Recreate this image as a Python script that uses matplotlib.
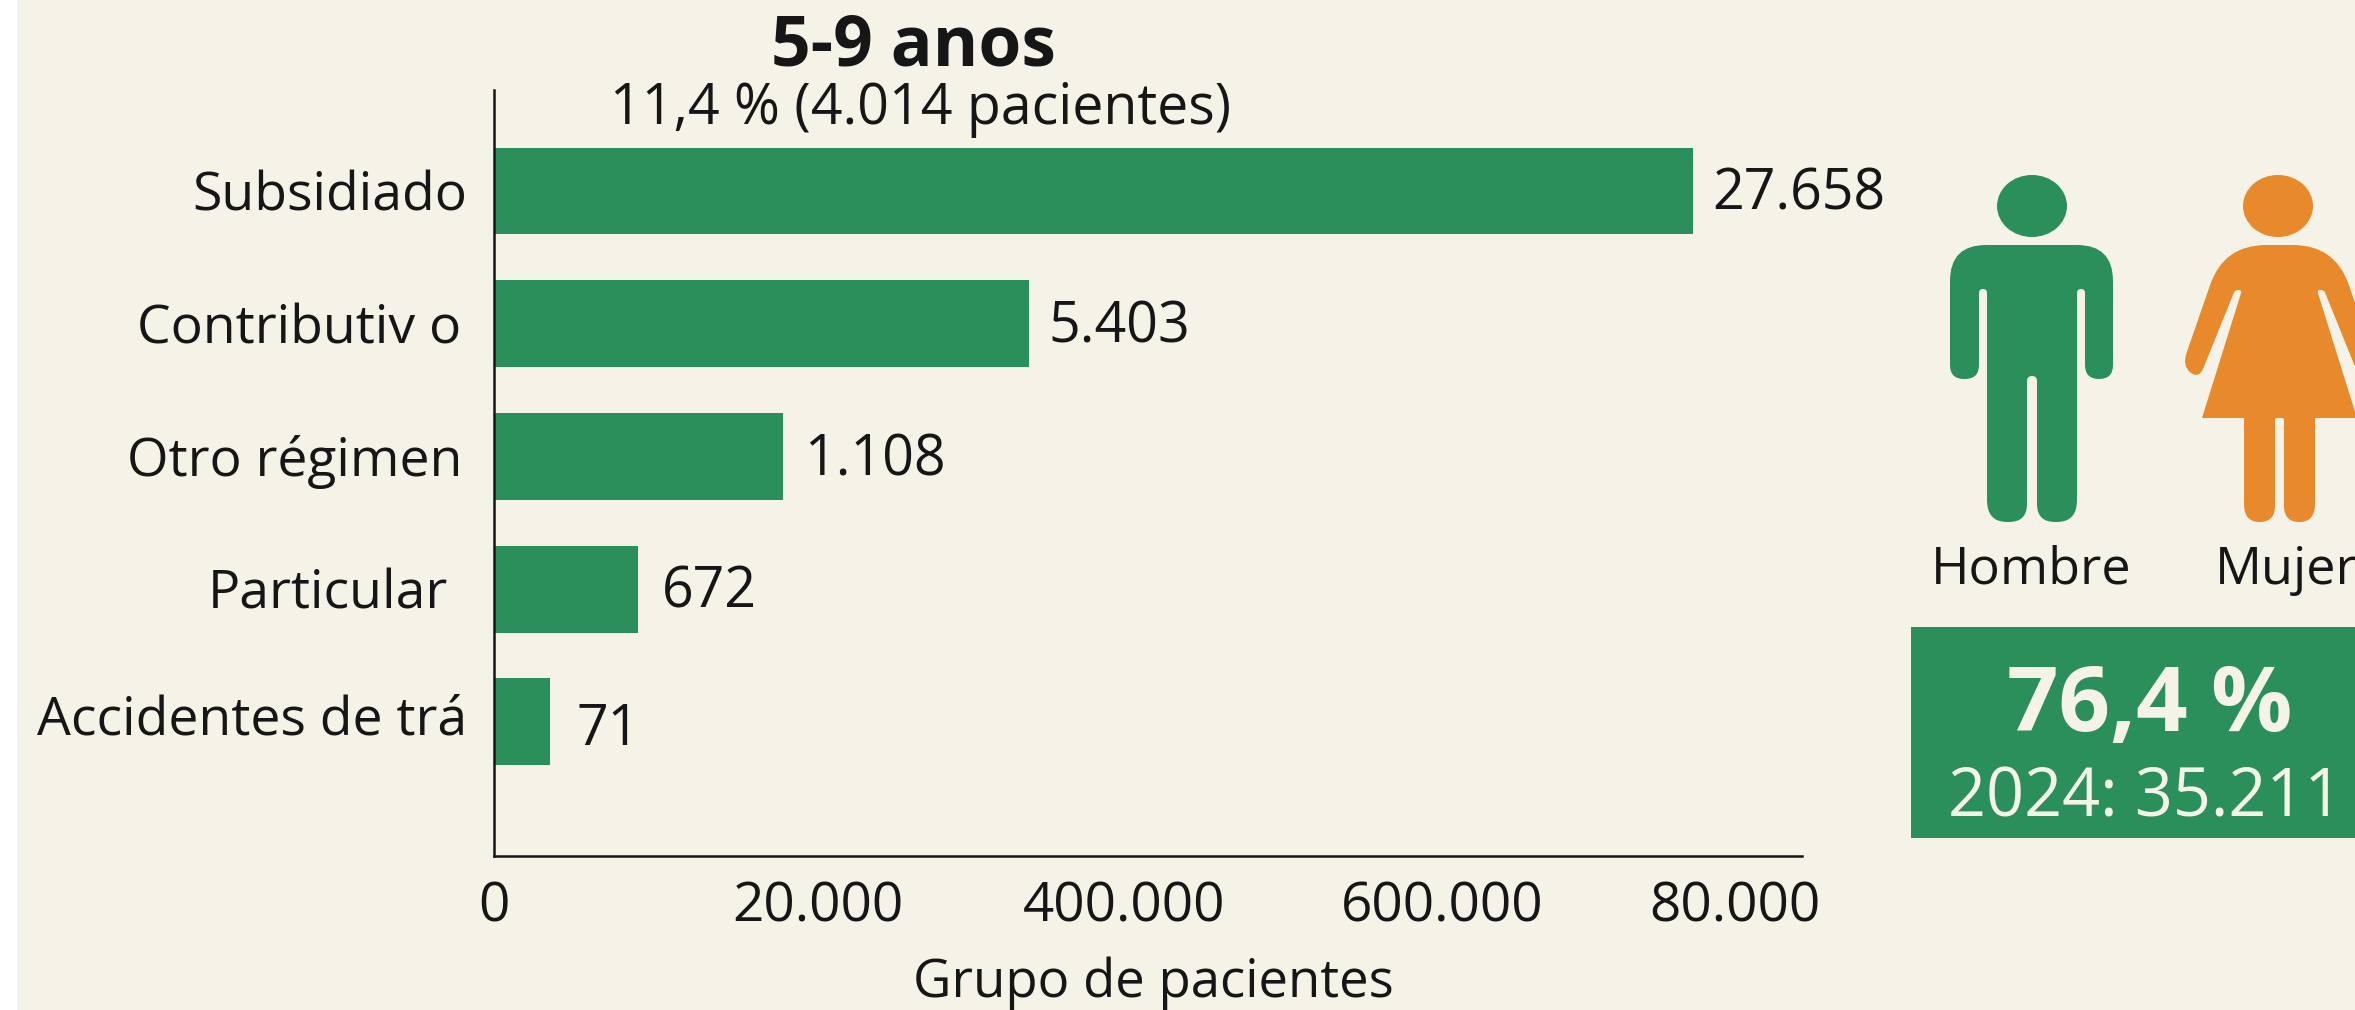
import matplotlib
matplotlib.use("Agg")
from matplotlib import pyplot as plt
from matplotlib.patches import Ellipse, PathPatch, Rectangle
from matplotlib.path import Path

plt.rcParams['font.family'] = ['Open Sans', 'DejaVu Sans']

# data, as printed in the picture (bars do not follow their printed labels)
categories = ["Subsidiado", "Contributiv o", "Otro régimen", "Particular", "Accidentes de trá"]
bar_lengths = [77300, 34500, 18650, 9300, 3600]
value_labels = ["27.658", "5.403", "1.108", "672", "71"]
tick_values = [0, 20900, 40600, 61100, 80000]
tick_labels = ["0", "20.000", "400.000", "600.000", "80.000"]

GREEN = "#2A8F5B"
ORANGE = "#E88A2B"
BEIGE = "#F5F2E8"
INK = "#161616"
W, H = 2355, 1010


def rounded(pts, radii):
    # closed outline with the corners cut by quadratic curves
    verts, codes = [], []
    n = len(pts)
    for i in range(n):
        p0, p1, p2 = pts[i - 1], pts[i], pts[(i + 1) % n]
        r = radii[i]
        d0 = ((p1[0] - p0[0]) ** 2 + (p1[1] - p0[1]) ** 2) ** 0.5
        d2 = ((p2[0] - p1[0]) ** 2 + (p2[1] - p1[1]) ** 2) ** 0.5
        r0 = min(r, d0 / 2) / d0
        r2 = min(r, d2 / 2) / d2
        a = (p1[0] + (p0[0] - p1[0]) * r0, p1[1] + (p0[1] - p1[1]) * r0)
        b = (p1[0] + (p2[0] - p1[0]) * r2, p1[1] + (p2[1] - p1[1]) * r2)
        verts += [a, p1, b]
        codes += [Path.MOVETO if i == 0 else Path.LINETO, Path.CURVE3, Path.CURVE3]
    verts.append(verts[0])
    codes.append(Path.CLOSEPOLY)
    return Path(verts, codes)


fig = plt.figure(figsize=(W / 100, H / 100), dpi=100, facecolor="white")

# overlay in pixel units for the panel and the pictograms
bg = fig.add_axes([0, 0, 1, 1], zorder=0)
bg.set_xlim(0, W)
bg.set_ylim(H, 0)
bg.axis("off")
bg.add_patch(Rectangle((17, 0), W - 17, H, color=BEIGE, lw=0))

# bar chart
ax = fig.add_axes([494 / W, 1 - 856 / H, (1802 - 494) / W, (856 - 90) / H], zorder=1)
ax.patch.set_alpha(0)
y = list(range(len(categories)))
ax.barh(y, bar_lengths, height=0.655, color=GREEN)
ax.set_xlim(0, (1802 - 494) / (1735 - 494) * 80000)
ax.set_ylim(5.01, -0.761)
for s in ["top", "right"]:
    ax.spines[s].set_visible(False)
for s in ["left", "bottom"]:
    ax.spines[s].set_linewidth(1.8)
    ax.spines[s].set_color(INK)
ax.set_xticks(tick_values, tick_labels, fontsize=39.5, color=INK)
ax.tick_params(axis="x", length=0, pad=17)
ax.set_yticks([])
ax.set_xlabel("Grupo de pacientes", fontsize=38, color=INK, labelpad=16, x=0.504)

label_pad = [-19, -24, -23, -33, -19]
label_dy = [-4, -4, -4, -4, 1]
value_pad = [14, 14, 15, 17, 19]
value_dy = [-3, -3, -3, -3, -6]
for i in y:
    ax.annotate(categories[i], (0, i), xytext=(label_pad[i], label_dy[i]),
                textcoords="offset points", ha="right", va="center", fontsize=38.5, color=INK)
    ax.annotate(value_labels[i], (bar_lengths[i], i), xytext=(value_pad[i], value_dy[i]),
                textcoords="offset points", ha="left", va="center", fontsize=40, color=INK)

bg.text(913, 48, "5-9 anos", fontsize=50, fontweight="bold", ha="center", va="center", color=INK)
bg.text(921, 110, "11,4 % (4.014 pacientes)", fontsize=40, ha="center", va="center", color=INK)

# man
bg.add_patch(Ellipse((2032, 206), 70, 62, color=GREEN, lw=0))
man = [(1950, 245), (2113, 245), (2113, 379), (2085, 379), (2085, 289), (2077, 289),
       (2077, 522), (2037, 522), (2037, 376), (2027, 376), (2027, 522), (1987, 522),
       (1987, 289), (1979, 289), (1979, 379), (1950, 379)]
man_r = [36, 36, 14, 14, 4, 4, 22, 18, 5, 5, 18, 22, 4, 4, 14, 14]
bg.add_patch(PathPatch(rounded(man, man_r), color=GREEN, lw=0))

# woman, right half mirrored from the left one
bg.add_patch(Ellipse((2278, 206), 70, 62, color=ORANGE, lw=0))
half = [(2224, 245), (2182, 366), (2199, 379), (2235, 290), (2242, 290),
        (2202, 418), (2244, 418), (2244, 522), (2275, 522), (2275, 418)]
half_r = [42, 14, 12, 3, 3, 0.5, 0.5, 18, 16, 2]
mirror = [(4559 - px, py) for px, py in reversed(half)]
woman = half + mirror
bg.add_patch(PathPatch(rounded(woman, half_r + half_r[::-1]), color=ORANGE, lw=0))

bg.text(2031, 570, "Hombre", fontsize=37.5, ha="center", va="center", color=INK)
bg.text(2215, 570, "Mujer", fontsize=37.5, ha="left", va="center", color=INK)

bg.add_patch(Rectangle((1911, 627), W - 1911, 211, color=GREEN, lw=0))
bg.text(2150, 708, "76,4 %", fontsize=65, fontweight="bold", ha="center", va="center", color=BEIGE)
bg.text(2145, 799, "2024: 35.211", fontsize=48, ha="center", va="center", color=BEIGE)

fig.savefig("out.png", dpi=100, facecolor=fig.get_facecolor())
